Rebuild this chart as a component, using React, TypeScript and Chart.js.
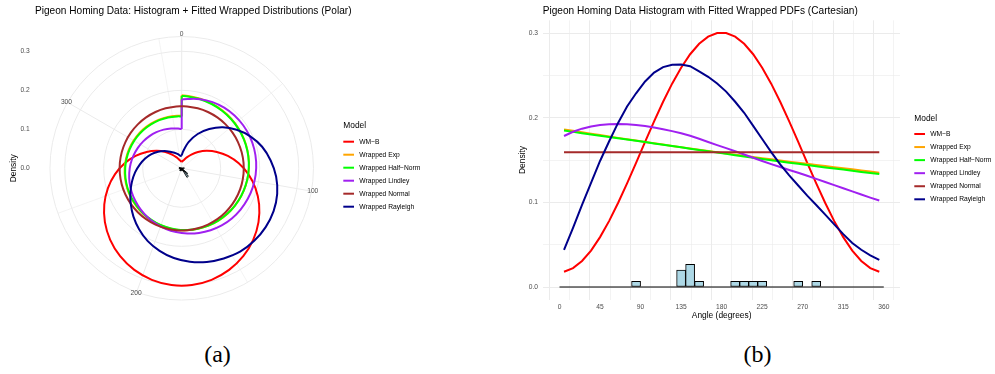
import React, { useEffect, useRef } from "react";
import { Chart, registerables } from "chart.js";

Chart.register(...registerables);

const FONT = '"Liberation Sans", Arial, Helvetica, sans-serif';
Chart.defaults.font.family = FONT;

// ---------------- data ----------------
// evaluation angles = histogram bin mid-points (degrees)
const angles = [5, 15, 25, 35, 45, 55, 65, 75, 85, 95, 105, 115, 125, 135, 145, 155, 165, 175,
  185, 195, 205, 215, 225, 235, 245, 255, 265, 275, 285, 295, 305, 315, 325, 335, 345, 355];

const modelNames = ["WM\u2212B", "Wrapped Exp", "Wrapped Half\u2212Norm", "Wrapped Lindley", "Wrapped Normal", "Wrapped Rayleigh"];
const modelColors = ["#FF0000", "#FFA500", "#00FF00", "#A020F0", "#A52A2A", "#00008B"];

const wmB = [0.0180, 0.0223, 0.0308, 0.0431, 0.0590, 0.0779, 0.0993, 0.1225, 0.1468, 0.1715, 0.1958, 0.2190,
  0.2404, 0.2593, 0.2752, 0.2875, 0.2960, 0.3003, 0.3003, 0.2960, 0.2875, 0.2752, 0.2593, 0.2404,
  0.2190, 0.1958, 0.1715, 0.1468, 0.1225, 0.0993, 0.0779, 0.0590, 0.0431, 0.0308, 0.0223, 0.0180];
const wrappedExp = [0.1863, 0.1846, 0.1829, 0.1812, 0.1796, 0.1779, 0.1763, 0.1747, 0.1731, 0.1715, 0.1699, 0.1684,
  0.1668, 0.1653, 0.1638, 0.1623, 0.1608, 0.1594, 0.1579, 0.1565, 0.1551, 0.1537, 0.1523, 0.1509,
  0.1496, 0.1482, 0.1469, 0.1456, 0.1443, 0.1430, 0.1417, 0.1404, 0.1391, 0.1378, 0.1365, 0.1352];
const wrappedHalfNorm = [0.1849, 0.1834, 0.1819, 0.1804, 0.1789, 0.1774, 0.1759, 0.1743, 0.1728, 0.1713, 0.1697, 0.1682,
  0.1666, 0.1651, 0.1635, 0.1620, 0.1605, 0.1589, 0.1574, 0.1559, 0.1544, 0.1529, 0.1514, 0.1499,
  0.1485, 0.1470, 0.1456, 0.1442, 0.1428, 0.1414, 0.1401, 0.1388, 0.1374, 0.1361, 0.1348, 0.1336];
const wrappedLindley = [0.1785, 0.1835, 0.1872, 0.1898, 0.1915, 0.1924, 0.1927, 0.1924, 0.1916, 0.1903, 0.1886, 0.1866,
  0.1843, 0.1818, 0.1788, 0.1752, 0.1715, 0.1678, 0.1642, 0.1605, 0.1567, 0.1528, 0.1490, 0.1453,
  0.1418, 0.1384, 0.1350, 0.1315, 0.1278, 0.1241, 0.1204, 0.1167, 0.1131, 0.1094, 0.1057, 0.1022];
const wrappedNormal = [0.1592, 0.1592, 0.1592, 0.1592, 0.1592, 0.1592, 0.1592, 0.1592, 0.1592, 0.1592, 0.1592, 0.1592,
  0.1592, 0.1592, 0.1592, 0.1592, 0.1592, 0.1592, 0.1592, 0.1592, 0.1592, 0.1592, 0.1592, 0.1592,
  0.1592, 0.1592, 0.1592, 0.1592, 0.1592, 0.1592, 0.1592, 0.1592, 0.1592, 0.1592, 0.1592, 0.1592];
const wrappedRayleigh = [0.0440, 0.0700, 0.0970, 0.1230, 0.1490, 0.1720, 0.1940, 0.2135, 0.2290, 0.2430, 0.2535, 0.2600,
  0.2628, 0.2630, 0.2610, 0.2550, 0.2485, 0.2405, 0.2310, 0.2190, 0.2060, 0.1905, 0.1750, 0.1595,
  0.1450, 0.1320, 0.1200, 0.1080, 0.0970, 0.0855, 0.0740, 0.0625, 0.0520, 0.0440, 0.0375, 0.0320];

// polar panel: curve values at exactly 0 and 360 degrees
const polarValueAt0 = [0.0175, 0.1872, 0.1856, 0.1765, 0.1592, 0.0330];
const polarValueAt360 = [0.0175, 0.1346, 0.1330, 0.1005, 0.1592, 0.0330];

// histogram (bins of 10 degrees, centred on `angles`)
const binWidth = 10;
const histDensity = [0, 0, 0, 0, 0, 0, 0, 0, 0.0067, 0, 0, 0, 0, 0.0200, 0.0267, 0.0067, 0, 0,
  0, 0.0067, 0.0067, 0.0067, 0.0067, 0, 0, 0, 0.0067, 0, 0.0067, 0, 0, 0, 0, 0, 0, 0];
const histRange = [0, 360];

// axes
const angleTicks = [0, 45, 90, 135, 180, 225, 270, 315, 360];
const angleGrid = [0, 22.5, 45, 67.5, 90, 112.5, 135, 157.5, 180, 202.5, 225, 247.5, 270, 292.5, 315, 337.5, 360];
const densityTicks = [0, 0.1, 0.2, 0.3];
const densityGrid = [0, 0.05, 0.1, 0.15, 0.2, 0.25, 0.3];
const thetaLabels = [0, 100, 200, 300];
const thetaGrid = [0, 50, 100, 150, 200, 250, 300, 350];

const seriesList = [wmB, wrappedExp, wrappedHalfNorm, wrappedLindley, wrappedNormal, wrappedRayleigh];

const titleA = "Pigeon Homing Data: Histogram + Fitted Wrapped Distributions (Polar)";
const titleB = "Pigeon Homing Data Histogram with Fitted Wrapped PDFs (Cartesian)";

// ---------------- helpers ----------------
const GRID = "#EBEBEB";
const TICK = "#4D4D4D";
const D2R = Math.PI / 180;
const rTop = Math.max(...seriesList.map((s) => Math.max(...s)));
const POLAR_HALF = (rTop / 0.4) * 0.5;
const POLAR_OUTER = (rTop / 0.4) * 0.45;

function drawLegend(ctx: CanvasRenderingContext2D, x: number, titleY: number, firstY: number, step: number) {
  ctx.save();
  ctx.textAlign = "left";
  ctx.textBaseline = "middle";
  ctx.fillStyle = "#000";
  ctx.font = `8.4px ${FONT}`;
  ctx.fillText("Model", x, titleY);
  modelNames.forEach((n, i) => {
    const y = firstY + step * i;
    ctx.strokeStyle = modelColors[i];
    ctx.lineWidth = 2;
    ctx.beginPath();
    ctx.moveTo(x, y);
    ctx.lineTo(x + 10.7, y);
    ctx.stroke();
    ctx.fillStyle = "#000";
    ctx.font = `6.7px ${FONT}`;
    ctx.fillText(n, x + 16, y);
  });
  ctx.restore();
}

const polarDecor = {
  id: "polarDecor",
  beforeDatasetsDraw(chart: any) {
    const { ctx, scales } = chart;
    const sx = scales.x;
    const sy = scales.y;
    const cx = sx.getPixelForValue(0);
    const cy = sy.getPixelForValue(0);
    const rad = (v: number) => sx.getPixelForValue(v) - cx;
    ctx.save();
    ctx.strokeStyle = GRID;
    ctx.lineWidth = 1;
    [...densityTicks.filter((v) => v > 0), POLAR_OUTER].forEach((v) => {
      ctx.beginPath();
      ctx.arc(cx, cy, rad(v), 0, 2 * Math.PI);
      ctx.stroke();
    });
    thetaGrid.forEach((a) => {
      ctx.lineWidth = thetaLabels.includes(a) ? 1 : 0.6;
      const t = a * D2R;
      const R = rad(POLAR_OUTER);
      ctx.beginPath();
      ctx.moveTo(cx, cy);
      ctx.lineTo(cx + R * Math.sin(t), cy - R * Math.cos(t));
      ctx.stroke();
    });
    // histogram wedges
    angles.forEach((mid, i) => {
      const h = histDensity[i];
      if (h <= 0) return;
      const a0 = (mid - binWidth / 2 - 90) * D2R;
      const a1 = (mid + binWidth / 2 - 90) * D2R;
      ctx.beginPath();
      ctx.moveTo(cx, cy);
      ctx.arc(cx, cy, rad(h), a0, a1);
      ctx.closePath();
      ctx.fillStyle = "#ADD8E6";
      ctx.fill();
      ctx.strokeStyle = "#000";
      ctx.lineWidth = 0.9;
      ctx.stroke();
    });
    ctx.restore();
  },
  afterDraw(chart: any) {
    const { ctx, scales } = chart;
    const sx = scales.x;
    const sy = scales.y;
    const cx = sx.getPixelForValue(0);
    const cy = sy.getPixelForValue(0);
    const rad = (v: number) => sx.getPixelForValue(v) - cx;
    ctx.save();
    ctx.textBaseline = "middle";
    ctx.fillStyle = "#000";
    ctx.textAlign = "left";
    ctx.font = `10.1px ${FONT}`;
    ctx.fillText(titleA, 35, 11.3);
    ctx.font = `6.7px ${FONT}`;
    ctx.fillStyle = TICK;
    ctx.textAlign = "right";
    densityTicks.forEach((v) => ctx.fillText(v.toFixed(1), 29.7, sy.getPixelForValue(v)));
    ctx.textAlign = "center";
    thetaLabels.forEach((a) => {
      const t = a * D2R;
      const R = rad(POLAR_OUTER) + (a === 0 ? 2.6 : 1.3);
      ctx.fillText(String(a), cx + R * Math.sin(t), cy - R * Math.cos(t));
    });
    ctx.save();
    ctx.translate(14, cy);
    ctx.rotate(-Math.PI / 2);
    ctx.fillStyle = "#000";
    ctx.font = `8.4px ${FONT}`;
    ctx.fillText("Density", 0, 0);
    ctx.restore();
    ctx.restore();
    drawLegend(ctx, 343.3, 126, 141.7, 13);
  },
};

const toXY = (a: number, r: number) => ({ x: r * Math.sin(a * D2R), y: r * Math.cos(a * D2R) });

// the fitted curve around the circle, from 0 to 360 degrees
function polarArc(i: number) {
  return [
    toXY(0, polarValueAt0[i]),
    ...angles.map((a, k) => toXY(a, seriesList[i][k])),
    toXY(360, polarValueAt360[i]),
  ];
}
// the radial join at 0 / 360 degrees
function polarJoin(i: number) {
  return [toXY(360, polarValueAt360[i]), toXY(0, polarValueAt0[i])];
}

function cartDecor() {
  return {
    id: "cartDecor",
    afterDraw(chart: any) {
      const { ctx } = chart;
      ctx.save();
      ctx.textBaseline = "middle";
      ctx.textAlign = "left";
      ctx.fillStyle = "#000";
      ctx.font = `10.1px ${FONT}`;
      ctx.fillText(titleB, 45.7, 11.7);
      ctx.restore();
      drawLegend(ctx, 417.3, 118.3, 134, 13.06);
    },
  };
}

export default function App() {
  const refA = useRef<HTMLCanvasElement>(null);
  const refB = useRef<HTMLCanvasElement>(null);

  useEffect(() => {
    const polarSets: any[] = [];
    modelNames.forEach((n, i) => {
      polarSets.push({
        label: n,
        data: polarArc(i),
        showLine: true,
        borderColor: modelColors[i],
        backgroundColor: modelColors[i],
        borderWidth: 2,
        pointRadius: 0,
        tension: 0.33,
        fill: false,
        order: 6 - i,
      });
      polarSets.push({
        label: n + " join",
        data: polarJoin(i),
        showLine: true,
        borderColor: modelColors[i],
        backgroundColor: modelColors[i],
        borderWidth: 2,
        pointRadius: 0,
        tension: 0.01,
        fill: false,
        order: 6 - i,
      });
    });

    const polar = new Chart(refA.current as HTMLCanvasElement, {
      type: "scatter",
      data: { datasets: polarSets } as any,
      plugins: [polarDecor],
      options: {
        animation: false,
        responsive: false,
        devicePixelRatio: 1,
        events: [],
        layout: { autoPadding: false, padding: { left: 35.3, top: 21.9, right: 497 - 328.1, bottom: 330 - 314.7 } },
        scales: {
          x: { type: "linear", display: false, min: -POLAR_HALF, max: POLAR_HALF },
          y: { type: "linear", display: false, min: -POLAR_HALF, max: POLAR_HALF },
        },
        plugins: { legend: { display: false }, tooltip: { enabled: false }, title: { display: false } },
      } as any,
    });

    const lineSets = modelNames.map((n, i) => ({
      type: "line",
      label: n,
      data: angles.map((a, k) => ({ x: a, y: seriesList[i][k] })),
      borderColor: modelColors[i],
      backgroundColor: modelColors[i],
      borderWidth: 2,
      pointRadius: 0,
      tension: 0,
      fill: false,
      order: 6 - i,
    }));

    const cart = new Chart(refB.current as HTMLCanvasElement, {
      type: "line",
      data: {
        datasets: [
          ...lineSets,
          {
            type: "line",
            label: "baseline",
            data: histRange.map((x) => ({ x, y: 0 })),
            borderColor: "#000",
            borderWidth: 1,
            pointRadius: 0,
            fill: false,
            order: 20,
          },
          {
            type: "bar",
            label: "histogram",
            data: angles.map((a, k) => ({ x: a, y: histDensity[k] })),
            backgroundColor: "#ADD8E6",
            borderColor: "#000",
            borderWidth: 1,
            borderSkipped: false,
            barPercentage: 1,
            categoryPercentage: 1,
            order: 30,
          },
        ],
      } as any,
      plugins: [cartDecor()],
      options: {
        animation: false,
        responsive: false,
        devicePixelRatio: 1,
        events: [],
        layout: { autoPadding: false, padding: { left: 0, top: 20.3, right: 95, bottom: 0 } },
        scales: {
          x: {
            type: "linear",
            min: -18,
            max: 378,
            offset: false,
            afterBuildTicks: (s: any) => {
              s.ticks = angleGrid.map((v) => ({ value: v }));
            },
            afterFit: (s: any) => {
              s.height = 30.3;
            },
            ticks: {
              autoSkip: false,
              maxRotation: 0,
              minRotation: 0,
              padding: 3,
              color: TICK,
              font: { size: 6.7 },
              callback: (v: any) => (angleTicks.includes(Number(v)) ? String(v) : ""),
            },
            grid: {
              color: GRID,
              drawTicks: false,
              lineWidth: (c: any) => (c.tick && angleTicks.includes(c.tick.value) ? 1 : 0.6),
            },
            border: { display: false },
            title: { display: true, text: "Angle (degrees)", color: "#000", font: { size: 8.4 }, padding: { top: 0, bottom: 8.96 } },
          },
          y: {
            type: "linear",
            min: -0.015,
            max: 0.3153,
            afterBuildTicks: (s: any) => {
              s.ticks = densityGrid.map((v) => ({ value: v }));
            },
            afterFit: (s: any) => {
              s.width = 46.3;
            },
            ticks: {
              autoSkip: false,
              padding: 5.3,
              color: TICK,
              font: { size: 6.7 },
              callback: (v: any) => {
                const n = Number(v);
                return densityTicks.some((t) => Math.abs(t - n) < 1e-9) ? n.toFixed(1) : "";
              },
            },
            grid: {
              color: GRID,
              drawTicks: false,
              lineWidth: (c: any) =>
                c.tick && densityTicks.some((t) => Math.abs(t - c.tick.value) < 1e-9) ? 1 : 0.6,
            },
            border: { display: false },
            title: { display: true, text: "Density", color: "#000", font: { size: 8.4 }, padding: { top: 20.66, bottom: 0 } },
          },
        },
        plugins: { legend: { display: false }, tooltip: { enabled: false }, title: { display: false } },
      } as any,
    });

    return () => {
      polar.destroy();
      cart.destroy();
    };
  }, []);

  const caption = (cx: number): React.CSSProperties => ({
    position: "absolute",
    left: cx,
    top: 341.7,
    transform: "translateX(-50%)",
    fontFamily: '"Liberation Serif", "DejaVu Serif", serif',
    fontSize: 24,
    lineHeight: "24px",
    whiteSpace: "nowrap",
    color: "#000",
  });

  return (
    <div style={{ position: "absolute", left: 0, top: 0, width: 995, height: 374, background: "#fff", overflow: "hidden" }}>
      <canvas ref={refA} width={497} height={330} style={{ position: "absolute", left: 0, top: 0, width: 497, height: 330 }} />
      <canvas ref={refB} width={498} height={330} style={{ position: "absolute", left: 497, top: 0, width: 498, height: 330 }} />
      <div style={caption(217.5)}>(a)</div>
      <div style={caption(757.5)}>(b)</div>
    </div>
  );
}
